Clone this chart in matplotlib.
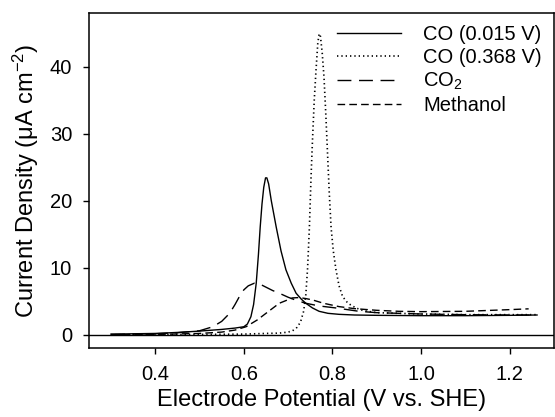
import matplotlib
matplotlib.use("Agg")
import matplotlib.pyplot as plt

plt.rcParams['font.family'] = ['Liberation Sans', 'DejaVu Sans']
plt.rcParams['mathtext.fontset'] = 'custom'
plt.rcParams['mathtext.rm'] = 'Liberation Sans'
plt.rcParams['mathtext.it'] = 'Liberation Sans:italic'

# CO adsorbed at 0.015 V (solid)
co1_x = [0.30, 0.35, 0.40, 0.45, 0.50, 0.55, 0.58, 0.60, 0.608, 0.616, 0.622, 0.628,
         0.633, 0.637, 0.641, 0.645, 0.649, 0.652, 0.656, 0.662, 0.673, 0.684, 0.695,
         0.707, 0.718, 0.730, 0.740, 0.755, 0.770, 0.790, 0.815, 0.85, 0.90, 1.00,
         1.10, 1.20, 1.262]
co1_y = [0.10, 0.15, 0.20, 0.35, 0.55, 0.80, 1.00, 1.20, 1.6, 2.7, 4.5, 7.7,
         12.0, 16.1, 19.5, 22.0, 23.4, 23.4, 22.5, 20.0, 16.1, 12.5, 9.7,
         7.7, 6.2, 5.3, 4.7, 4.0, 3.5, 3.2, 3.05, 2.95, 2.9, 2.85,
         2.85, 2.9, 2.95]

# CO adsorbed at 0.368 V (dotted)
co2_x = [0.30, 0.40, 0.50, 0.60, 0.65, 0.68, 0.70, 0.71, 0.72, 0.728, 0.735, 0.740,
         0.744, 0.748, 0.752, 0.755, 0.759, 0.763, 0.767, 0.770, 0.773, 0.777, 0.781,
         0.785, 0.789, 0.793, 0.797, 0.802, 0.808, 0.815, 0.823, 0.835, 0.853, 0.87,
         0.90, 1.00, 1.10, 1.20, 1.262]
co2_y = [0.00, 0.02, 0.05, 0.10, 0.20, 0.25, 0.40, 0.60, 1.1, 1.9, 3.5, 6.0,
         10.0, 16.0, 24.0, 29.0, 35.0, 39.5, 43.5, 44.9, 44.5, 42.0, 38.4,
         33.0, 27.0, 21.0, 16.0, 12.5, 9.7, 7.3, 5.7, 4.7, 4.0, 3.6,
         3.3, 3.1, 3.0, 3.0, 3.0]

# CO2 (long dashes)
cdx = [0.30, 0.40, 0.45, 0.50, 0.53, 0.55, 0.568, 0.58, 0.59, 0.60, 0.61, 0.624,
       0.635, 0.65, 0.665, 0.68, 0.70, 0.72, 0.74, 0.77, 0.808, 0.86, 0.90, 1.00,
       1.10, 1.20, 1.262]
cdy = [0.05, 0.15, 0.30, 0.60, 1.2, 2.0, 3.2, 4.5, 5.7, 6.7, 7.3, 7.7,
       7.6, 7.1, 6.6, 6.2, 5.6, 5.1, 4.7, 4.3, 4.0, 3.5, 3.3, 3.1,
       3.0, 2.95, 2.95]

# Methanol (short dashes)
me_x = [0.30, 0.40, 0.50, 0.55, 0.58, 0.605, 0.63, 0.65, 0.68, 0.71, 0.725, 0.74,
        0.755, 0.78, 0.815, 0.85, 0.90, 0.95, 1.00, 1.10, 1.20, 1.243]
me_y = [0.00, 0.05, 0.20, 0.40, 0.70, 1.2, 2.2, 3.2, 4.7, 5.5, 5.55, 5.4,
        5.2, 4.7, 4.2, 3.9, 3.65, 3.5, 3.45, 3.5, 3.75, 3.87]

xticks = [0.4, 0.6, 0.8, 1.0, 1.2]
yticks = [0, 10, 20, 30, 40]

fig = plt.figure(figsize=(5.55, 4.17), dpi=100)
ax = fig.add_axes([0.160, 0.165, 0.838, 0.804])

ax.plot(co1_x, co1_y, color='black', lw=1.0, ls='-', label='CO (0.015 V)')
ax.plot(co2_x, co2_y, color='black', lw=1.2, ls=(0, (0.8, 1.8)), label='CO (0.368 V)')
ax.plot(cdx, cdy, color='black', lw=1.0, ls=(0, (10, 5.5)), label='CO$_2$')
ax.plot(me_x, me_y, color='black', lw=1.0, ls=(0, (5.5, 3)), label='Methanol')
ax.axhline(0, color='black', lw=1.0)

ax.set_xlim(0.25, 1.3)
ax.set_ylim(-2, 48)
ax.set_xticks(xticks)
ax.set_xticklabels([f'{v:.1f}' for v in xticks])
ax.set_yticks(yticks)
ax.tick_params(direction='out', length=4, width=1, labelsize=14.5, pad=8)
for s in ax.spines.values():
    s.set_linewidth(1.1)

ax.set_xlabel('Electrode Potential (V vs. SHE)', fontsize=17, labelpad=4)
ax.set_ylabel('Current Density (μA cm$^{-2}$)', fontsize=17, labelpad=6)

leg = ax.legend(loc='upper right', frameon=False, fontsize=14.5, handlelength=3.2,
                handletextpad=1.1, labelspacing=0.2, borderaxespad=0.2)

fig.savefig('out.png', dpi=100)
